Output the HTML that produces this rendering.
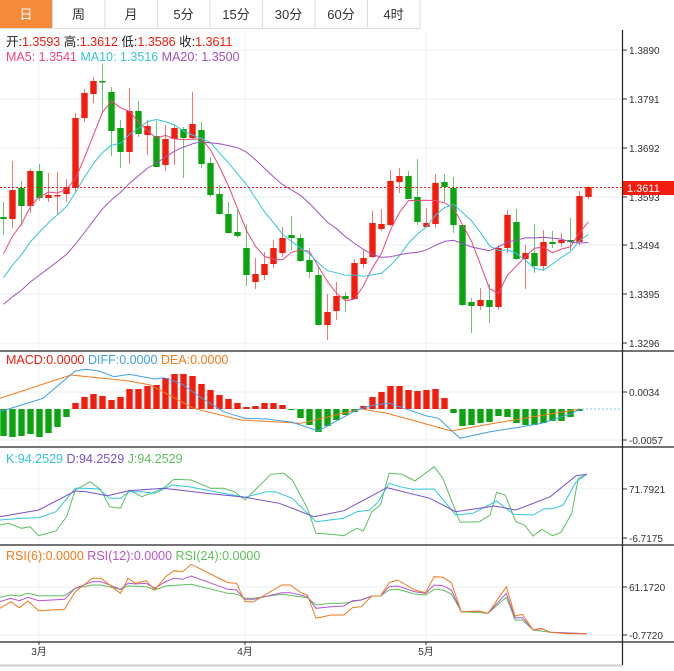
<!DOCTYPE html>
<html><head><meta charset="utf-8"><style>
body{margin:0;background:#fff;width:674px;height:671px;overflow:hidden;font-family:"Liberation Sans","Noto Sans CJK SC",sans-serif}
svg{position:absolute;left:0;top:0}
</style></head><body>
<svg id="s" width="674" height="671" xmlns="http://www.w3.org/2000/svg" font-family="Liberation Sans, Noto Sans CJK SC, sans-serif"></svg>
<script>
const S=document.getElementById('s');let h='';
function L(x1,y1,x2,y2,c,w,d){h+=`<line x1="${x1}" y1="${y1}" x2="${x2}" y2="${y2}" stroke="${c}" stroke-width="${w||1}" ${d?'stroke-dasharray="'+d+'"':''}/>`;}
function R(x,y,w,hh,c,o){h+=`<rect x="${x}" y="${y}" width="${w}" height="${hh}" fill="${c}" ${o?'opacity="'+o+'"':''}/>`;}
function T(x,y,t,c,sz,a){h+=`<text x="${x}" y="${y}" fill="${c}" font-size="${sz||12}" ${a?'text-anchor="'+a+'"':''}>${t}</text>`;}
function P(pts,c,w){h+=`<polyline points="${pts.map(p=>p[0].toFixed(1)+','+p[1].toFixed(1)).join(' ')}" fill="none" stroke="${c}" stroke-width="${w||1}"/>`;}
const tabs=['日','周','月','5分','15分','30分','60分','4时'];
tabs.forEach((t,i)=>{let x=i*52.5;if(i==0)R(0,0,52,28,'#f38b3a');else L(x,0,x,28,'#ddd');T(x+26,19,t,i==0?'#fff':'#333',13,'middle');});
L(420,0,420,28,'#ddd');L(0,28.5,420,28.5,'#ddd');
const GX=[39,245,426];
GX.forEach(x=>L(x,33,x,642,'#eef2f4'));
[[50,'1.3890'],[99,'1.3791'],[148,'1.3692'],[197,'1.3593'],[245,'1.3494'],[294,'1.3395'],[343,'1.3296']].forEach(a=>{L(0,a[0],622,a[0],'#e8edf0');L(622,a[0],627,a[0],'#333');T(629,a[0]+4,a[1],'#333',10);});
[[392,'0.0034'],[440,'-0.0057'],[489,'71.7921'],[538,'-6.7175'],[587,'61.1720'],[635,'-0.7720']].forEach(a=>{L(0,a[0],622,a[0],'#e8edf0');L(622,a[0],627,a[0],'#333');T(629,a[0]+4,a[1],'#333',10);});
[351,447,545,642].forEach(y=>L(0,y,674,y,'#222',1.2));
L(622.5,30,622.5,665,'#222',1.2);
L(0,665.5,622,665.5,'#ccc',2);
[['3月',39],['4月',245],['5月',426]].forEach(a=>{T(a[1],655,a[0],'#333',10,'middle');L(a[1],642,a[1],645,'#333');});
const C=[['g',217,219,202,235],['r',190,219,161,228],['g',188,206,181,226],['r',171,206,169,213],['g',171,198,164,201],['r',195,198,173,202],['r',195,196,172,215],['r',187,194,179,202],['r',118,188,113,193],['r',93,118,89,122],['r',81,94,77,103],['g',81,82,64,112],['g',92,131,87,156],['g',128,152,120,168],['r',111,152,88,164],['g',111,134,101,137],['r',126,135,120,155],['g',136,167,121,167],['r',139,165,125,171],['r',128,139,125,165],['g',129,138,127,178],['r',124,138,92,139],['g',130,164,122,168],['g',163,195,157,197],['g',194,214,185,215],['g',214,233,202,234],['g',232,236,210,238],['g',248,275,224,286],['r',274,282,258,289],['r',264,275,252,280],['r',248,264,240,268],['r',238,253,227,257],['g',235,238,216,250],['g',238,261,234,262],['g',260,272,248,278],['g',275,325,268,325],['r',312,325,294,340],['r',296,311,282,320],['g',296,299,292,312],['r',263,299,259,299],['r',258,264,249,268],['r',223,257,211,258],['r',224,229,209,231],['r',181,225,170,226],['r',176,182,168,193],['g',176,199,171,199],['g',197,222,159,225],['r',223,227,208,227],['r',183,224,174,228],['g',182,187,174,202],['g',188,225,177,233],['g',225,305,225,306],['g',302,306,298,333],['r',300,306,288,310],['g',300,307,284,323],['r',248,307,245,310],['r',215,248,210,253],['g',222,259,209,260],['r',253,259,245,289],['g',253,266,224,273],['r',242,266,230,271],['g',242,244,231,248],['r',240,243,233,247],['g',240,242,218,250],['r',196,242,191,245],['r',187,197,186,199]];
const RED='#f21d0d',GRN='#0aa40e';
const X=i=>3.5+9*i;
const closes=C.map(c=>c[0]=='r'?c[1]:c[2]);
C.forEach((c,i)=>{const col=c[0]=='r'?RED:GRN;const x=X(i);L(x,c[3],x,c[4],col,1);h+=`<line x1="${x}" y1="${c[3]}" x2="${x}" y2="${c[4]}" stroke="#fff" stroke-opacity="0.4"/>`;R(x-3.2,c[1],6.4,Math.max(1.5,c[2]-c[1]),col);});
const pre=[340,338,336,334,332,330,328,326,324,320,316,310,302,294,286,278,268,258,246];
const all=pre.concat(closes);
function ma(n){const r=[];for(let i=0;i<closes.length;i++){let s=0;for(let k=0;k<n;k++)s+=all[19+i-k];r.push([X(i),s/n]);}return r;}
P(ma(5),'#f0457a');P(ma(10),'#33c6db');P(ma(20),'#a24fc6');
L(0,187.5,622,187.5,RED,1,'2,2');
R(623,181,51,14,RED);T(627,192,'1.3611','#fff',11);
h+=`<text x="6" y="46" font-size="12.5"><tspan fill="#222">开:</tspan><tspan fill="${RED}">1.3593 </tspan><tspan fill="#222"> 高:</tspan><tspan fill="${RED}">1.3612 </tspan><tspan fill="#222"> 低:</tspan><tspan fill="${RED}">1.3586 </tspan><tspan fill="#222"> 收:</tspan><tspan fill="${RED}">1.3611</tspan></text>`;
h+=`<text x="6" y="61" font-size="12.5"><tspan fill="#f0457a">MA5: 1.3541 </tspan><tspan fill="#33c6db"> MA10: 1.3516 </tspan><tspan fill="#a24fc6"> MA20: 1.3500</tspan></text>`;
h+=`<text x="6" y="364" font-size="12.5"><tspan fill="${RED}">MACD:0.0000 </tspan><tspan fill="#3fa0e8"> DIFF:0.0000 </tspan><tspan fill="#f27a1a"> DEA:0.0000</tspan></text>`;
h+=`<text x="6" y="463" font-size="12.5"><tspan fill="#33c6db">K:94.2529 </tspan><tspan fill="#7a4fd0"> D:94.2529 </tspan><tspan fill="#5cbf5c"> J:94.2529</tspan></text>`;
h+=`<text x="6" y="560" font-size="12.5"><tspan fill="#f27a1a">RSI(6):0.0000 </tspan><tspan fill="#b455d0"> RSI(12):0.0000 </tspan><tspan fill="#5cbf5c"> RSI(24):0.0000</tspan></text>`;
const mb=[436,437,436,434,437,433,427,417,403,397,394,396,400,397,389,389,386,385,378,374,374,376,384,390,395,399,403,407,406,403,403,405,410,418,425,432,426,420,415,412,406,397,392,386,386,390,391,390,389,398,413,426,425,423,422,416,417,423,425,425,423,421,421,417,411];
mb.forEach((y,i)=>{const x=X(i);const col=y<409?RED:GRN;R(x-3.2,Math.min(y,409),6.4,Math.max(1,Math.abs(y-409)),col);});
L(578,409,622,409,'#7fc3ee',1,'2,2');
function conv(a,y0){return a.map(p=>[p[0]/2.326,y0+p[1]/3]);}
P(conv([[0,160],[165,90],[300,108],[350,120],[450,190],[560,225],[700,235],[840,192],[900,205],[1050,258],[1150,235],[1350,192]],345),'#f27a1a');
P(conv([[0,200],[50,180],[100,160],[175,78],[200,73],[230,78],[265,95],[300,88],[360,102],[380,98],[420,115],[470,160],[520,200],[570,220],[620,222],[680,232],[740,258],[780,230],[830,195],[870,180],[905,175],[940,190],[990,212],[1020,220],[1070,280],[1140,260],[1200,248],[1260,235],[1330,205],[1350,192]],345),'#3fa0e8');
P(conv([[0,240],[20,235],[50,250],[70,245],[90,272],[130,258],[155,215],[175,135],[210,110],[235,135],[255,185],[280,190],[300,135],[330,155],[360,140],[380,130],[405,103],[445,105],[490,130],[520,130],[545,140],[570,165],[630,88],[660,85],[680,105],[715,190],[735,265],[770,268],[800,272],[830,250],[845,258],[865,200],[885,180],[905,85],[935,88],[965,108],[1010,65],[1030,100],[1070,232],[1115,230],[1140,210],[1155,142],[1175,150],[1200,230],[1220,240],[1240,273],[1260,253],[1285,272],[1305,262],[1330,205],[1345,100],[1365,88]],445),'#5cbf5c');
P(conv([[0,225],[50,220],[90,218],[130,200],[175,130],[200,130],[230,132],[255,160],[280,160],[300,140],[330,140],[360,145],[400,120],[440,125],[500,140],[570,157],[620,140],[640,140],[680,160],[735,230],[800,220],[830,200],[860,195],[880,170],[905,115],[930,125],[960,133],[1010,132],[1060,210],[1100,205],[1155,168],[1195,208],[1240,210],[1265,192],[1290,190],[1310,180],[1340,110],[1365,88]],445),'#33c6db');
P(conv([[0,215],[90,195],[175,138],[200,140],[250,152],[300,137],[380,130],[480,145],[570,157],[650,175],[730,215],[800,197],[900,128],[1000,160],[1060,200],[1150,183],[1200,195],[1280,155],[1340,92],[1365,88]],445),'#7a4fd0');
P(conv([[0,172],[25,165],[45,168],[65,160],[90,167],[150,167],[175,145],[215,135],[235,135],[280,148],[298,138],[340,140],[360,150],[385,138],[445,133],[530,160],[550,162],[570,175],[590,175],[655,163],[715,173],[735,195],[770,190],[800,190],[840,180],[865,168],[885,168],[905,150],[925,148],[965,162],[990,165],[1010,148],[1030,150],[1050,162],[1073,215],[1135,220],[1178,172],[1198,240],[1215,240],[1240,270],[1280,277],[1365,281]],540),'#5cbf5c');
P(conv([[0,185],[25,175],[45,182],[65,172],[90,182],[150,178],[175,145],[215,125],[235,125],[280,148],[298,130],[315,132],[340,130],[360,145],[385,125],[405,115],[425,118],[445,108],[530,148],[550,150],[570,178],[590,178],[655,158],[675,158],[715,170],[735,205],[770,200],[800,198],[820,182],[840,180],[865,168],[885,168],[905,140],[925,138],[965,155],[990,160],[1010,135],[1030,137],[1050,150],[1073,215],[1115,214],[1135,220],[1178,160],[1198,233],[1215,233],[1240,270],[1260,266],[1280,277],[1365,281]],540),'#b455d0');
P(conv([[0,205],[25,185],[45,203],[65,183],[90,212],[150,208],[175,155],[215,115],[235,115],[280,160],[298,115],[315,130],[340,122],[360,150],[385,110],[405,92],[425,95],[445,73],[530,128],[550,130],[570,185],[590,185],[655,135],[675,135],[700,158],[715,165],[735,235],[770,225],[800,225],[820,203],[840,200],[865,168],[885,168],[905,128],[925,120],[965,150],[990,158],[1010,110],[1030,112],[1050,128],[1073,215],[1115,213],[1135,220],[1178,140],[1198,228],[1215,223],[1240,270],[1260,265],[1280,277],[1320,281],[1365,281]],540),'#f27a1a');
S.innerHTML=h;
</script>
</body></html>
